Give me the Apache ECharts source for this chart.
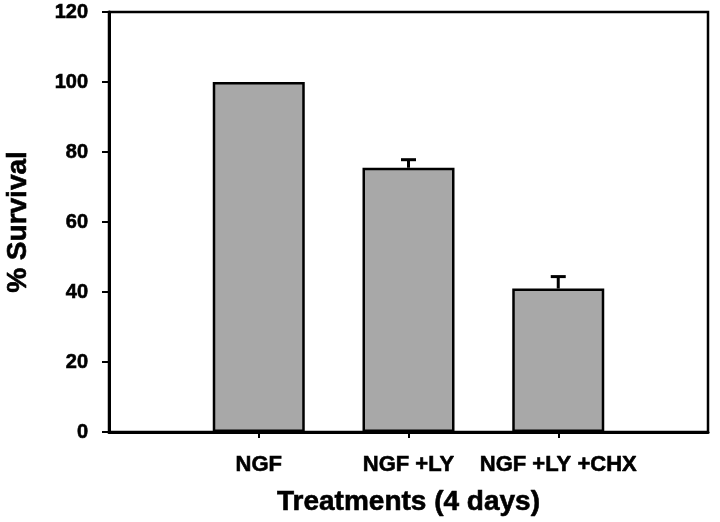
<!DOCTYPE html>
<html>
<head>
<meta charset="utf-8">
<script src="https://cdn.jsdelivr.net/npm/echarts@6/dist/echarts.min.js"></script>
<style>
html,body{margin:0;padding:0;background:#fff;}
#chart{width:720px;height:522px;}
</style>
</head>
<body>
<div id="chart"></div>
<script>
var categories = ['NGF', 'NGF +LY', 'NGF +LY +CHX'];
var survival = [100, 75.5, 41];
var errors = [0, 2.3, 3.4];
var yTicks = [0, 20, 40, 60, 80, 100, 120];

var FONT = "'Liberation Sans', Arial, sans-serif";
var axisCats = [''].concat(categories, ['']);
var barData = ['-'].concat(survival, ['-']);
var errData = categories.map(function (c, i) {
  return [i + 1, survival[i], survival[i] + errors[i]];
}).filter(function (d) { return d[2] > d[1]; });

var bold = { fontFamily: FONT, fontWeight: 'bold', color: '#000', textBorderColor: '#000', textBorderWidth: 0.6 };
function ts(size, extra) { return Object.assign({}, bold, { fontSize: size }, extra || {}); }

var chart = echarts.init(document.getElementById('chart'));
chart.setOption({
  animation: false,
  backgroundColor: '#fff',
  grid: { left: 109, right: 12, top: 12, bottom: 90, outerBoundsMode: 'none', containLabel: false, show: true, borderColor: '#000', borderWidth: 2.5, backgroundColor: 'transparent' },
  xAxis: {
    type: 'category',
    data: axisCats,
    boundaryGap: false,
    name: 'Treatments (4 days)',
    nameLocation: 'middle',
    nameGap: 56,
    nameTextStyle: ts(28),
    axisLine: { lineStyle: { color: '#000', width: 3 } },
    axisTick: { length: 6, lineStyle: { color: '#000', width: 2 }, interval: function (i) { return i > 0 && i < axisCats.length - 1; } },
    axisLabel: ts(22, { interval: 0, margin: 22 }),
    splitLine: { show: false }
  },
  yAxis: {
    type: 'value',
    min: yTicks[0],
    max: yTicks[yTicks.length - 1],
    interval: yTicks[1] - yTicks[0],
    name: '% Survival',
    nameLocation: 'middle',
    nameGap: 77,
    nameRotate: 90,
    nameTextStyle: ts(28),
    axisLine: { show: true, lineStyle: { color: '#000', width: 3 } },
    axisTick: { show: true, length: 7, lineStyle: { color: '#000', width: 2 } },
    axisLabel: ts(20, { margin: 21 }),
    splitLine: { show: false }
  },
  series: [
    {
      type: 'bar',
      data: barData,
      barWidth: 92,
      itemStyle: { color: '#a8a8a8', borderColor: '#000', borderWidth: 2.5 },
      z: 2
    },
    {
      type: 'custom',
      data: errData,
      z: 3,
      renderItem: function (params, api) {
        var x = api.value(0);
        var lo = api.coord([x, api.value(1)]);
        var hi = api.coord([x, api.value(2)]);
        var hw = 7.5;
        return {
          type: 'group',
          children: [
            { type: 'line', shape: { x1: lo[0], y1: lo[1], x2: hi[0], y2: hi[1] }, style: { stroke: '#000', lineWidth: 3 } },
            { type: 'line', shape: { x1: hi[0] - hw, y1: hi[1], x2: hi[0] + hw, y2: hi[1] }, style: { stroke: '#000', lineWidth: 3 } }
          ]
        };
      }
    }
  ]
});
</script>
</body>
</html>
